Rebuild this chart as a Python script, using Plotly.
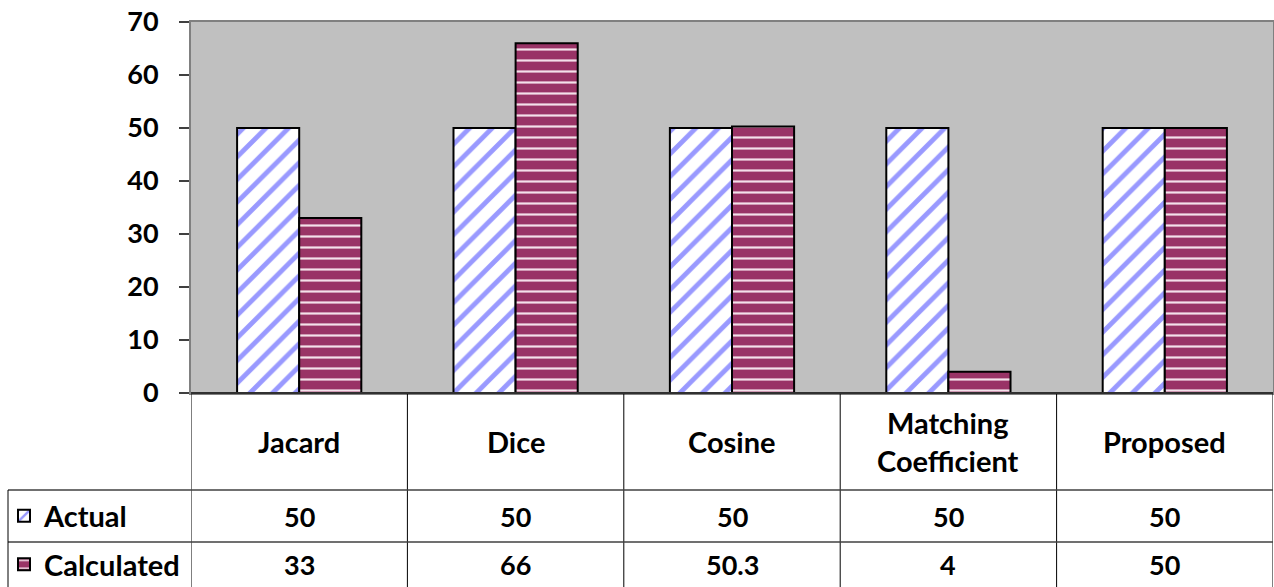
import plotly.graph_objects as go

categories = ["Jacard", "Dice", "Cosine", "Matching Coefficient", "Proposed"]
category_labels = ["Jacard", "Dice", "Cosine", "Matching<br>Coefficient", "Proposed"]
actual = [50, 50, 50, 50, 50]
calculated = [33, 66, 50.3, 4, 50]
y_ticks = [0, 10, 20, 30, 40, 50, 60, 70]

W, H = 1274, 587
L, R, T, B = 191, 1, 22, 194
plot_h = H - T - B
plot_w = W - L - R

FONT = "Lato"
FS_NUM = 27
FS_TXT = 29


def py(px):  # pixel y (from top) -> paper y
    return (H - B - px) / plot_h


def pxp(px):  # pixel x -> paper x
    return (px - L) / plot_w


fig = go.Figure()
fig.add_trace(go.Bar(
    x=categories, y=actual, name="<b>Actual</b>", legend="legend",
    marker=dict(color="white", line=dict(color="black", width=2),
                pattern=dict(shape="/", bgcolor="white", fgcolor="#9999FF",
                             size=16, solidity=0.3, fillmode="replace")),
))
fig.add_trace(go.Bar(
    x=categories, y=calculated, name="<b>Calculated</b>", legend="legend2",
    marker=dict(color="#993366", line=dict(color="black", width=2),
                pattern=dict(shape="-", bgcolor="#993366", fgcolor="#F4E0EA",
                             size=11, solidity=0.2, fillmode="replace")),
))

shapes = []
n = len(categories)
bottom = py(H)
row1 = py(490)
row2 = py(542)
# vertical table lines at category boundaries
for i in range(n + 1):
    shapes.append(dict(type="line", xref="x", yref="paper", x0=i - 0.5, x1=i - 0.5,
                       y0=0, y1=bottom, line=dict(color="black", width=1)))
# horizontal row lines
for yy in (row1, row2):
    shapes.append(dict(type="line", xref="paper", yref="paper", x0=pxp(8), x1=1,
                       y0=yy, y1=yy, line=dict(color="#404040", width=1.5)))
# left border of legend column
shapes.append(dict(type="line", xref="paper", yref="paper", x0=pxp(8), x1=pxp(8),
                   y0=row1, y1=bottom, line=dict(color="black", width=1)))
# plot bottom line
shapes.append(dict(type="line", xref="paper", yref="paper", x0=0, x1=1,
                   y0=0, y1=0, line=dict(color="#303030", width=2)))

annotations = []
hdr_y = py((393 + 490) / 2)
r1_y = py((490 + 542) / 2)
r2_y = py((542 + 587) / 2)
for c, lab, a, cval in zip(categories, category_labels, actual, calculated):
    for text, yy, fs in ((lab, hdr_y, FS_TXT), (f"{a:g}", r1_y, FS_NUM),
                         (f"{cval:g}", r2_y, FS_NUM)):
        annotations.append(dict(x=c, y=yy, xref="x", yref="paper", text=f"<b>{text}</b>",
                                xanchor="center", yanchor="middle", showarrow=False,
                                font=dict(family=FONT, size=fs, color="black")))

legend_common = dict(xref="container", yref="container", xanchor="left", yanchor="middle",
                     bgcolor="rgba(0,0,0,0)", borderwidth=0,
                     font=dict(family=FONT, size=FS_TXT, color="black"),
                     itemclick=False, itemdoubleclick=False)

fig.update_layout(
    width=W, height=H,
    margin=dict(l=L, r=R, t=T, b=B, pad=0),
    paper_bgcolor="white",
    plot_bgcolor="#C0C0C0",
    barmode="group",
    bargap=0.426,
    bargroupgap=0,
    showlegend=True,
    legend=dict(x=4 / W, y=1 - 516 / H, **legend_common),
    legend2=dict(x=4 / W, y=1 - 564.5 / H, **legend_common),
    xaxis=dict(type="category", showticklabels=False, ticks="", showgrid=False,
               showline=True, mirror=True, linecolor="#808080", linewidth=2,
               range=[-0.5, n - 0.5], zeroline=False, automargin=False),
    yaxis=dict(range=[0, 70], tickvals=y_ticks, showgrid=False, zeroline=False,
               showline=True, mirror=True, linecolor="#808080", linewidth=2,
               ticks="outside", ticklen=10, tickwidth=1.5, tickcolor="#404040",
               ticklabelstandoff=15, automargin=False,
               tickfont=dict(family=FONT, size=FS_NUM, color="black", weight="bold")),
    shapes=shapes,
    annotations=annotations,
)

fig.write_html("out.html")
